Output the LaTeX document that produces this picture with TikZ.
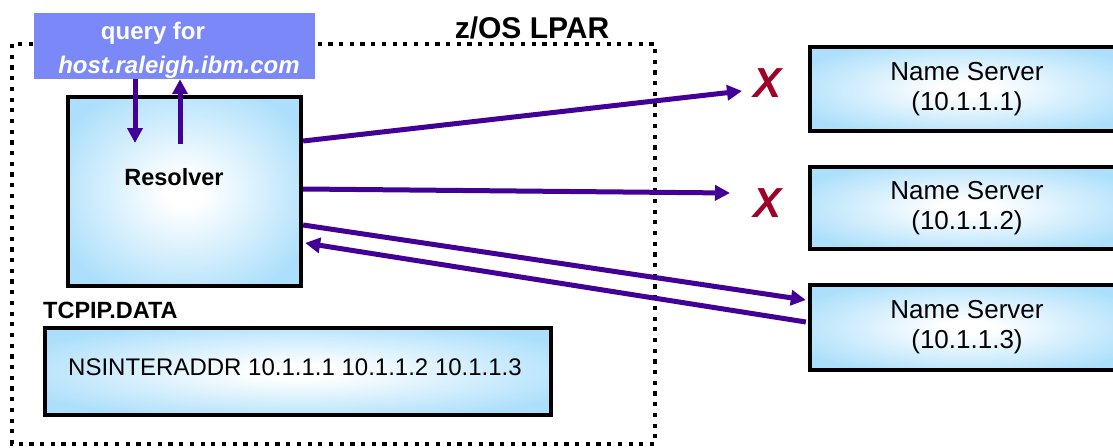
\documentclass[tikz,border=0pt]{standalone}
\usepackage{fontspec}
\setmainfont{Liberation Sans}
\usetikzlibrary{arrows.meta}
\definecolor{boxblue}{RGB}{172,223,251}
\definecolor{qblue}{RGB}{122,136,248}
\definecolor{arrcol}{RGB}{66,0,150}
\definecolor{xred}{RGB}{160,0,40}
\pgfdeclareradialshading{glow}{\pgfpoint{0bp}{0bp}}{color(0bp)=(white); color(4bp)=(white); color(30bp)=(boxblue); color(100bp)=(boxblue)}
\begin{document}
\begin{tikzpicture}[x=1pt,y=-1pt,
  glowbox/.style={draw=black, line width=4.3pt, shading=glow, inner sep=0pt, minimum width=#1},
  qbox/.style={fill=qblue, inner sep=0pt},
  qtext/.style={text=white, font=\fontsize{24}{28}\selectfont\bfseries, inner sep=0pt, anchor=base},
  boldlbl/.style={font=\fontsize{23.5}{27}\selectfont\bfseries, inner sep=0pt},
  nstext/.style={font=\fontsize{26}{30}\selectfont, align=center},
  xmark/.style={text=xred, font=\fontsize{42}{46}\selectfont\bfseries\itshape, inner sep=0pt, anchor=base},
  flow/.style={draw=arrcol, line width=5pt, -{Triangle[length=15pt,width=15pt]}},
  lpar/.style={draw=black, line width=4.5pt, dash pattern=on 4.2pt off 6.5pt}
]
\useasboundingbox (0,0) rectangle (1113,447);
% LPAR frame
\draw[lpar] (12,44) rectangle (655,444);
\node[font=\fontsize{30}{34}\selectfont\bfseries, inner sep=0pt, anchor=base] (lparlbl) at (532,38) {z/OS LPAR};
% query box
\node[qbox, minimum width=281pt, minimum height=66pt] (q) at (174.5,46) {};
\node[qtext] (q1) at (153,39) {query for};
\node[qtext, font=\fontsize{24}{28}\selectfont\bfseries\itshape] (q2) at (179,73) {host.raleigh.ibm.com};
% resolver
\node[glowbox=233pt, minimum height=189pt] (res) at (184.5,191.5) {};
\node[boldlbl, anchor=base] (resl) at (174,185) {Resolver};
% TCPIP.DATA
\node[boldlbl, anchor=base west] (tcp) at (43,318) {TCPIP.DATA};
\node[glowbox=506pt, minimum height=87pt] (data) at (298,371.5) {};
\node[font=\fontsize{24}{28}\selectfont, inner sep=0pt, anchor=base] (datal) at (295,375) {NSINTERADDR 10.1.1.1 10.1.1.2 10.1.1.3};
% name servers
\node[glowbox=314pt, minimum height=84pt, nstext] (ns1) at (967,89) {Name Server\\(10.1.1.1)};
\node[glowbox=314pt, minimum height=82pt, nstext] (ns2) at (967,208) {Name Server\\(10.1.1.2)};
\node[glowbox=314pt, minimum height=85pt, nstext] (ns3) at (967,327.5) {Name Server\\(10.1.1.3)};
% X marks
\node[xmark] (x1) at (767,97) {X};
\node[xmark] (x2) at (767,217) {X};
% free ends
\coordinate (t1) at (742,91);
\coordinate (t2) at (730,193);
\coordinate (d1) at (135,143);
\coordinate (u1) at (180,144);
% arrows
\draw[flow] ([xshift=-39.5pt]q.south) -- (d1);
\draw[flow] (u1) -- ([xshift=5.5pt]q.south);
\draw[flow] ([yshift=50.5pt]res.east) -- (t1);
\draw[flow] ([yshift=2.5pt]res.east) -- (t2);
\draw[flow] ([yshift=-33.5pt]res.east) -- ([yshift=27.5pt,xshift=-2pt]ns3.west);
\draw[flow] ([yshift=5.5pt,xshift=-2pt]ns3.west) -- ([yshift=-51.5pt,xshift=2pt]res.east);
\end{tikzpicture}
\end{document}
